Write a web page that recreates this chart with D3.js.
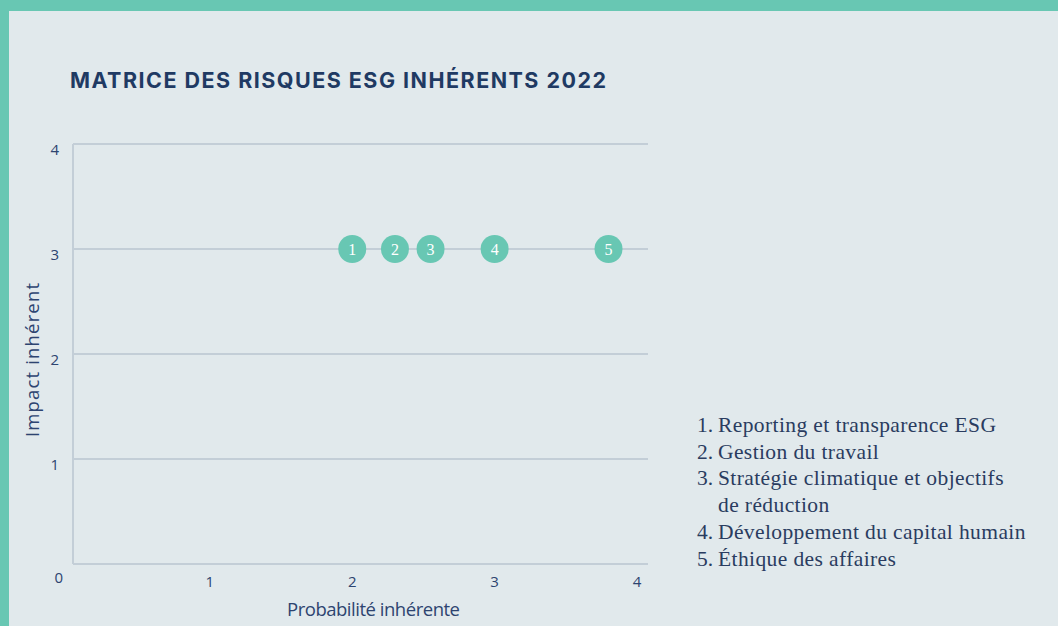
<!DOCTYPE html>
<html lang="fr">
<head>
<meta charset="utf-8">
<script src="https://cdn.jsdelivr.net/npm/d3@7"></script>
<style>
  html, body { margin: 0; padding: 0; background: #e1e9ec; }
  svg { display: block; }
</style>
</head>
<body>
<script>
// Risk matrix data: inherent probability (x) and inherent impact (y)
const riskIds = [1, 2, 3, 4, 5];
const probability = [2.0, 2.3, 2.55, 3.0, 3.8];
const impact = [3, 3, 3, 3, 3];
const legendItems = [
  ["1.", "Reporting et transparence ESG"],
  ["2.", "Gestion du travail"],
  ["3.", "Stratégie climatique et objectifs", "de réduction"],
  ["4.", "Développement du capital humain"],
  ["5.", "Éthique des affaires"]
];
const xTicks = [1, 2, 3, 4];
const yTicks = [0, 1, 2, 3, 4];
const titleText = "MATRICE DES RISQUES ESG INHÉRENTS 2022";
const xLabel = "Probabilité inhérente";
const yLabel = "Impact inhérent";

const W = 1058, H = 626;
const teal = "#68c7b3";
const navy = "#1f3a63";
const grid = "#c3ced7";
const ink = "#2d4470";

const svg = d3.select("body").append("svg").attr("width", W).attr("height", H);

// Spread a text's letters so it spans the given width
function fitWidth(sel, width) {
  const node = sel.node();
  const n = node.getNumberOfChars();
  const w = node.getComputedTextLength();
  sel.attr("letter-spacing", (width - w) / Math.max(1, n - 1));
}

// Frame: background with teal band on top and left
svg.append("rect").attr("width", W).attr("height", H).attr("fill", teal);
svg.append("rect").attr("x", 9).attr("y", 11).attr("width", W - 9).attr("height", H - 11).attr("fill", "#e1e9ec");

// Title
const title = svg.append("text")
  .attr("x", 70).attr("y", 88)
  .attr("font-family", "Inter, sans-serif")
  .attr("font-weight", 700)
  .attr("font-size", 21.5)
  .attr("fill", navy)
  .text(titleText);
fitWidth(title, 536);

const x = d3.scaleLinear().domain([0, 4]).range([67.5, 637]);
const y = d3.scaleLinear().domain([0, 4]).range([564, 144]);
const plotLeft = 73, plotRight = 648;

// Horizontal gridlines (including baseline)
svg.append("g").selectAll("line").data(yTicks).join("line")
  .attr("x1", plotLeft).attr("x2", plotRight)
  .attr("y1", d => y(d)).attr("y2", d => y(d))
  .attr("stroke", grid).attr("stroke-width", 2);

// Left axis line
svg.append("line")
  .attr("x1", plotLeft).attr("x2", plotLeft)
  .attr("y1", y(4)).attr("y2", y(0))
  .attr("stroke", grid).attr("stroke-width", 2);

// Y tick labels
svg.append("g").selectAll("text").data(yTicks).join("text")
  .attr("x", d => d === 0 ? 63 : 59)
  .attr("y", d => y(d) + (d === 0 ? 19 : 11))
  .attr("text-anchor", "end")
  .attr("font-family", "Open Sans, sans-serif")
  .attr("font-size", 15)
  .attr("fill", ink)
  .text(d => d);

// X tick labels
svg.append("g").selectAll("text").data(xTicks).join("text")
  .attr("x", d => x(d))
  .attr("y", 587)
  .attr("text-anchor", "middle")
  .attr("font-family", "Open Sans, sans-serif")
  .attr("font-size", 15)
  .attr("fill", ink)
  .text(d => d);

// Axis titles
const xt = svg.append("text")
  .attr("x", 287).attr("y", 616)
  .attr("font-family", "Open Sans, sans-serif")
  .attr("font-size", 18.5)
  .attr("fill", ink)
  .text(xLabel);
fitWidth(xt, 173);

const yt = svg.append("text")
  .attr("transform", "translate(39,437) rotate(-90)")
  .attr("font-family", "Open Sans, sans-serif")
  .attr("font-size", 18.5)
  .attr("fill", ink)
  .text(yLabel);
fitWidth(yt, 154);

// Risk markers
const pts = riskIds.map((id, i) => ({ id, px: probability[i], py: impact[i] }));
const g = svg.append("g").selectAll("g").data(pts).join("g")
  .attr("transform", d => `translate(${x(d.px)},${y(d.py)})`);
g.append("circle").attr("r", 14).attr("fill", teal);
g.append("text")
  .attr("text-anchor", "middle")
  .attr("dy", "0.36em")
  .attr("font-family", "Liberation Serif, serif")
  .attr("font-size", 16)
  .attr("fill", "#ffffff")
  .text(d => d.id);

// Legend
const legend = svg.append("g").attr("font-family", "Liberation Serif, serif")
  .attr("font-size", 21.5).attr("fill", "#2a3c60");
let row = 0;
const lineH = 26.7, legendTop = 432;
const legendLines = [];
legendItems.forEach(item => {
  legend.append("text").attr("x", 697).attr("y", legendTop + row * lineH).text(item[0]);
  item.slice(1).forEach(line => {
    legendLines.push(legend.append("text").attr("x", 718).attr("y", legendTop + row * lineH).text(line));
    row++;
  });
});
// common spacing taken from the first entry's width
{
  const first = legendLines[0].node();
  const ls = (278 - first.getComputedTextLength()) / (first.getNumberOfChars() - 1);
  legendLines.forEach(t => t.attr("letter-spacing", ls));
}
</script>
</body>
</html>
